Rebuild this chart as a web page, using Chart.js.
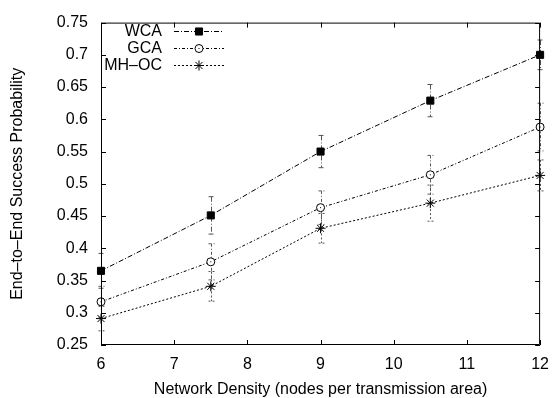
<!DOCTYPE html>
<html>
<head>
<meta charset="utf-8">
<script src="https://cdn.jsdelivr.net/npm/chart.js@4/dist/chart.umd.min.js"></script>
<style>
  html, body { margin: 0; padding: 0; background: #fff; }
</style>
</head>
<body>
<canvas id="chart" width="559" height="398"></canvas>
<script>
// node density values on the x axis
const densities = [6, 7.5, 9, 10.5, 12];

const seriesNames = ['WCA', 'GCA', 'MH\u2013OC'];

// success probability + error bar half-widths for each scheme
const wcaValues = [0.365, 0.451, 0.550, 0.629, 0.700];
const wcaErrors = [0.027, 0.029, 0.025, 0.025, 0.023];
const gcaValues = [0.317, 0.379, 0.463, 0.514, 0.588];
const gcaErrors = [0.024, 0.028, 0.026, 0.030, 0.037];
const mhocValues = [0.291, 0.341, 0.431, 0.470, 0.513];
const mhocErrors = [0.019, 0.023, 0.023, 0.028, 0.024];

const xTicks = [6, 7, 8, 9, 10, 11, 12];
const yTicks = [0.25, 0.3, 0.35, 0.4, 0.45, 0.5, 0.55, 0.6, 0.65, 0.7, 0.75];

const FONT = 'Liberation Sans, Arial, Helvetica, sans-serif';

function toPoints(values) {
    return densities.map((x, i) => ({ x: x, y: values[i] }));
}

const errorsByDataset = [wcaErrors, gcaErrors, mhocErrors];

// gnuplot-ish frame: box on all four sides, ticks pointing inward
const framePlugin = {
    id: 'frame',
    afterDraw(chart) {
        const ctx = chart.ctx;
        const a = chart.chartArea;
        const xs = chart.scales.x, ys = chart.scales.y;
        ctx.save();
        ctx.strokeStyle = '#000';
        ctx.lineWidth = 1;
        ctx.setLineDash([]);
        ctx.beginPath();
        ctx.rect(a.left + 0.5, a.top + 0.5, a.right - a.left - 1, a.bottom - a.top - 1);
        xTicks.forEach(v => {
            const px = Math.round(xs.getPixelForValue(v)) + 0.5;
            ctx.moveTo(px, a.bottom); ctx.lineTo(px, a.bottom - 5);
            ctx.moveTo(px, a.top); ctx.lineTo(px, a.top + 5);
        });
        yTicks.forEach(v => {
            const py = Math.round(ys.getPixelForValue(v)) + 0.5;
            ctx.moveTo(a.left, py); ctx.lineTo(a.left + 5, py);
            ctx.moveTo(a.right, py); ctx.lineTo(a.right - 5, py);
        });
        ctx.stroke();
        ctx.restore();
    }
};

// vertical error bars with small caps
const errorBarPlugin = {
    id: 'errorBars',
    beforeDatasetsDraw(chart) {
        const ctx = chart.ctx;
        const xs = chart.scales.x, ys = chart.scales.y;
        ctx.save();
        chart.data.datasets.forEach((ds, di) => {
            const errs = errorsByDataset[di];
            ctx.strokeStyle = '#555';
            ctx.lineWidth = 1;
            ctx.setLineDash(ds.borderDash);
            ds.data.forEach((p, i) => {
                const px = Math.round(xs.getPixelForValue(p.x)) + 0.5;
                const top = ys.getPixelForValue(p.y + errs[i]);
                const bot = ys.getPixelForValue(p.y - errs[i]);
                ctx.beginPath();
                ctx.moveTo(px, top); ctx.lineTo(px, bot);
                ctx.moveTo(px - 3, top); ctx.lineTo(px + 3, top);
                ctx.moveTo(px - 3, bot); ctx.lineTo(px + 3, bot);
                ctx.stroke();
            });
        });
        ctx.restore();
    }
};

// legend in the upper-left corner, labels right aligned
const keyPlugin = {
    id: 'key',
    afterDraw(chart) {
        const ctx = chart.ctx;
        const rowsY = [31, 48, 65];
        ctx.save();
        ctx.font = '16px ' + FONT;
        ctx.textAlign = 'right';
        ctx.textBaseline = 'middle';
        chart.data.datasets.forEach((ds, i) => {
            const y = rowsY[i] + 0.5;
            ctx.fillStyle = '#000';
            ctx.fillText(ds.label, 162, y);
            ctx.strokeStyle = '#000';
            ctx.lineWidth = 1;
            ctx.setLineDash(ds.borderDash);
            ctx.beginPath();
            ctx.moveTo(174, y); ctx.lineTo(224, y);
            ctx.stroke();
            ctx.setLineDash([]);
            ctx.fillStyle = ds.pointBackgroundColor;
            ctx.strokeStyle = ds.pointBorderColor;
            ctx.lineWidth = ds.pointBorderWidth;
            Chart.helpers.drawPoint(ctx, {
                pointStyle: ds.pointStyle, radius: ds.pointRadius,
                borderWidth: ds.pointBorderWidth, rotation: 0
            }, 199, y);
            if (i === 1) ctx.fillStyle = '#000', ctx.fillRect(198.5, y - 0.5, 1, 1);
        });
        ctx.restore();
    }
};

// small dot in the middle of the GCA circles
const dotPlugin = {
    id: 'dots',
    afterDatasetsDraw(chart) {
        const meta = chart.getDatasetMeta(1);
        const ctx = chart.ctx;
        ctx.save();
        ctx.fillStyle = '#000';
        meta.data.forEach(pt => {
            ctx.fillRect(pt.x - 0.5, pt.y - 0.5, 1, 1);
        });
        ctx.restore();
    }
};

const datasets = [
    {
        label: seriesNames[0],
        data: toPoints(wcaValues),
        borderColor: '#000',
        borderWidth: 1,
        borderDash: [5, 2, 1, 2],
        pointStyle: 'rect',
        pointRadius: 5,
        pointBackgroundColor: '#000',
        pointBorderColor: '#000',
        pointBorderWidth: 1
    },
    {
        label: seriesNames[1],
        data: toPoints(gcaValues),
        borderColor: '#000',
        borderWidth: 1,
        borderDash: [3, 2, 1, 2],
        pointStyle: 'circle',
        pointRadius: 4,
        pointBackgroundColor: '#fff',
        pointBorderColor: '#000',
        pointBorderWidth: 1
    },
    {
        label: seriesNames[2],
        data: toPoints(mhocValues),
        borderColor: '#000',
        borderWidth: 1,
        borderDash: [2, 2],
        pointStyle: 'star',
        pointRadius: 5,
        pointBackgroundColor: '#000',
        pointBorderColor: '#000',
        pointBorderWidth: 1
    }
];

datasets.forEach(ds => {
    ds.clip = false;
    ds.tension = 0;
    ds.fill = false;
});

new Chart(document.getElementById('chart').getContext('2d'), {
    type: 'line',
    data: { datasets: datasets },
    options: {
        responsive: false,
        animation: false,
        devicePixelRatio: 1,
        layout: { padding: { top: 15, right: 13, bottom: 0, left: 0 } },
        plugins: {
            legend: { display: false },
            tooltip: { enabled: false }
        },
        scales: {
            x: {
                type: 'linear',
                min: 6,
                max: 12,
                afterFit(scale) { scale.height = 53; },
                afterBuildTicks(scale) { scale.ticks = xTicks.map(v => ({ value: v })); },
                grid: { display: false, drawTicks: false },
                border: { display: false },
                ticks: {
                    color: '#000',
                    padding: 10,
                    font: { family: FONT, size: 16 },
                    maxRotation: 0
                },
                title: {
                    display: true,
                    text: 'Network Density (nodes per transmission area)',
                    color: '#000',
                    font: { family: FONT, size: 16, lineHeight: 1 },
                    padding: { top: 0, bottom: 0 }
                }
            },
            y: {
                min: 0.25,
                max: 0.75,
                afterFit(scale) { scale.width = 101; },
                afterBuildTicks(scale) { scale.ticks = yTicks.map(v => ({ value: v })); },
                grid: { display: false, drawTicks: false },
                border: { display: false },
                ticks: {
                    color: '#000',
                    padding: 13,
                    font: { family: FONT, size: 16 },
                    callback: v => String(+v.toFixed(2))
                },
                title: {
                    display: true,
                    text: 'End\u2013to\u2013End Success Probability',
                    color: '#000',
                    font: { family: FONT, size: 16, lineHeight: 1.2 },
                    padding: { top: 8, bottom: 0 }
                }
            }
        }
    },
    plugins: [errorBarPlugin, dotPlugin, framePlugin, keyPlugin]
});
</script>
</body>
</html>
